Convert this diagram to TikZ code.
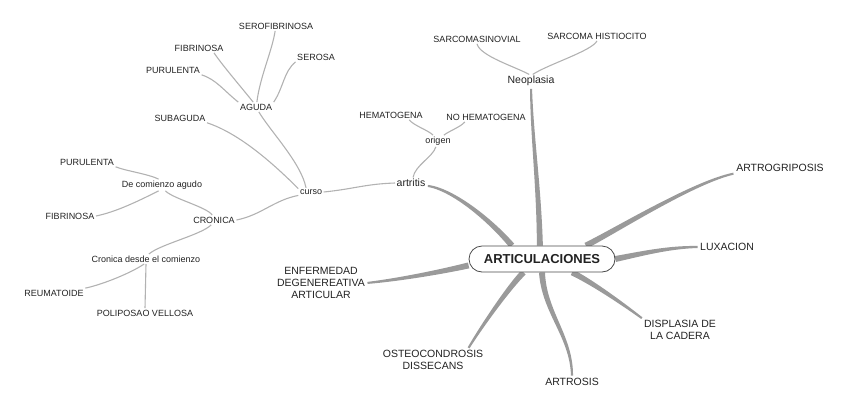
\documentclass[tikz,border=0pt]{standalone}
\usepackage{fontspec}
\setmainfont{Liberation Sans}
\usepackage{tikz}
\usetikzlibrary{
    decorations.markings,
    backgrounds
}
\definecolor{trunkgray}{HTML}{9A9A9A}
\definecolor{twiggray}{HTML}{B2B2B2}
\definecolor{rootline}{HTML}{4A4A4A}
\definecolor{labelink}{HTML}{222222}

% fill the tapered band whose edge points a trunk path has left behind
\newcommand{\trunkfill}[1]{%
    \fill[trunkgray] (#1-L1) \foreach \k in {2,...,41}{ -- (#1-L\k)}
        \foreach \k in {41,...,1}{ -- (#1-R\k)} -- cycle;
}

\begin{document}
\begin{tikzpicture}[
        x=1pt, y=-1pt,
        root/.style={
            draw=rootline, line width=0.8pt, fill=white,
            rounded corners=13pt, minimum height=26pt, minimum width=146pt,
            text=labelink, font=\bfseries\fontsize{13}{15}\selectfont
        },
        topic/.style={
            align=center, inner sep=1.5pt, text=labelink,
            font=\fontsize{10.5}{12}\selectfont
        },
        leaf/.style={
            inner sep=1.5pt, text=labelink,
            font=\fontsize{9}{10}\selectfont
        },
        twig/.style={draw=twiggray, line width=1.1pt},
        trunk/.style={
            postaction={decorate, decoration={markings,
                mark=between positions 0 and 1 step 0.0248 with {
                    \pgfmathsetmacro{\tw}{1+2*(1-\pgfkeysvalueof{/pgf/decoration/mark info/distance from start}/\pgfdecoratedpathlength)}
                    \coordinate (#1-L\pgfkeysvalueof{/pgf/decoration/mark info/sequence number}) at (0,\tw pt);
                    \coordinate (#1-R\pgfkeysvalueof{/pgf/decoration/mark info/sequence number}) at (0,-\tw pt);
                }}}
        }
    ]
    \useasboundingbox (0,0) rectangle (848,410);

    \node[root] (root) at (542,259) {ARTICULACIONES};

    \node[topic] (artro) at (780,168) {ARTROGRIPOSIS};
    \node[topic] (luxa) at (727,247) {LUXACION};
    \node[topic] (displ) at (680,330) {DISPLASIA DE\\LA CADERA};
    \node[topic] (artrosis) at (572,382) {ARTROSIS};
    \node[topic] (osteo) at (433,360) {OSTEOCONDROSIS\\DISSECANS};
    \node[topic] (enfer) at (321,283) {ENFERMEDAD\\DEGENEREATIVA\\ARTICULAR};
    \node[topic] (artritis) at (411,183) {artritis};
    \node[topic] (neo) at (531,81) {Neoplasia};

    \node[leaf] (sarcsin) at (477,39) {SARCOMASINOVIAL};
    \node[leaf] (sarchis) at (597,36) {SARCOMA HISTIOCITO};
    \node[leaf] (origen) at (438,141) {origen};
    \node[leaf] (hemat) at (391,115) {HEMATOGENA};
    \node[leaf] (nohemat) at (486,117) {NO HEMATOGENA};
    \node[leaf] (curso) at (311,192) {curso};
    \node[leaf] (aguda) at (256,107) {AGUDA};
    \node[leaf] (serofib) at (276,26) {SEROFIBRINOSA};
    \node[leaf] (fibrA) at (199,48) {FIBRINOSA};
    \node[leaf] (serosa) at (316,57) {SEROSA};
    \node[leaf] (puruA) at (173,70) {PURULENTA};
    \node[leaf] (subag) at (180,118) {SUBAGUDA};
    \node[leaf] (decom) at (162,185) {De comienzo agudo};
    \node[leaf] (puruB) at (87,162) {PURULENTA};
    \node[leaf] (fibrB) at (70,216) {FIBRINOSA};
    \node[leaf] (cronica) at (214,220) {CRONICA};
    \node[leaf] (crodesde) at (146,259) {Cronica desde el comienzo};
    \node[leaf] (reuma) at (54,293) {REUMATOIDE};
    \node[leaf] (polip) at (145,313) {POLIPOSAO VELLOSA};

    \begin{scope}[on background layer]
        % main branches
        \path[trunk=tA] (root.156) .. controls +(-22,-26) and +(25,3) .. (artritis.-10);
        \path[trunk=tB] (root.99) .. controls +(-1,-60) and +(1,50) .. (neo.south);
        \path[trunk=tC] (root.17) .. controls +(30,-15) and +(-40,8) .. (artro.south west);
        \path[trunk=tD] (root.east) .. controls +(25,-5) and +(-30,0) .. (luxa.west);
        \path[trunk=tE] (root.-24) .. controls +(20,10) and +(-20,-15) .. (displ.north west);
        \path[trunk=tF] (root.south) .. controls +(2,40) and +(0,-40) .. (artrosis.north);
        \path[trunk=tG] (root.216) .. controls +(-15,15) and +(12,-20) .. (osteo.18);
        \path[trunk=tH] (root.185) .. controls +(-30,7) and +(30,-3) .. (enfer.east);
        \foreach \t in {tA,tB,tC,tD,tE,tF,tG,tH}{
            \trunkfill{\t}
        }

        % sub branches
        \draw[twig] (artritis.west) .. controls +(-30,1) and +(30,-3) .. (curso.east);
        \draw[twig] (artritis.70) .. controls +(2,-12) and +(-3,10) .. (origen.250);
        \draw[twig] (origen.130) .. controls +(-5,-5) and +(5,6) .. (hemat.-15);
        \draw[twig] (origen.45) .. controls +(5,-4) and +(-4,5) .. (nohemat.-167);
        \draw[twig] (neo.105) .. controls +(-15,-8) and +(3,12) .. (sarcsin.south);
        \draw[twig] (neo.75) .. controls +(15,-10) and +(-5,10) .. (sarchis.south);
        \draw[twig] (curso.140) .. controls +(-5,-25) and +(12,20) .. (aguda.-60);
        \draw[twig] (curso.165) .. controls +(-30,-30) and +(30,10) .. (subag.-10);
        \draw[twig] (curso.195) .. controls +(-25,5) and +(25,-5) .. (cronica.east);
        \draw[twig] (aguda.north west) .. controls +(-15,-12) and +(15,5) .. (puruA.south east);
        \draw[twig] (aguda.120) .. controls +(-12,-15) and +(8,12) .. (fibrA.-18);
        \draw[twig] (aguda.80) .. controls +(3,-25) and +(-3,20) .. (serofib.-100);
        \draw[twig] (aguda.north east) .. controls +(10,-15) and +(-12,10) .. (serosa.south west);
        \draw[twig] (cronica.110) .. controls +(-5,-8) and +(8,8) .. (decom.-60);
        \draw[twig] (cronica.-120) .. controls +(-10,10) and +(12,-10) .. (crodesde.60);
        \draw[twig] (decom.120) .. controls +(-10,-5) and +(10,4) .. (puruB.south east);
        \draw[twig] (decom.-120) .. controls +(-20,10) and +(20,-4) .. (fibrB.east);
        \draw[twig] (crodesde.-110) .. controls +(-15,10) and +(15,-3) .. (reuma.north east);
        \draw[twig] (crodesde.south) -- (polip.north);
    \end{scope}
\end{tikzpicture}
\end{document}
